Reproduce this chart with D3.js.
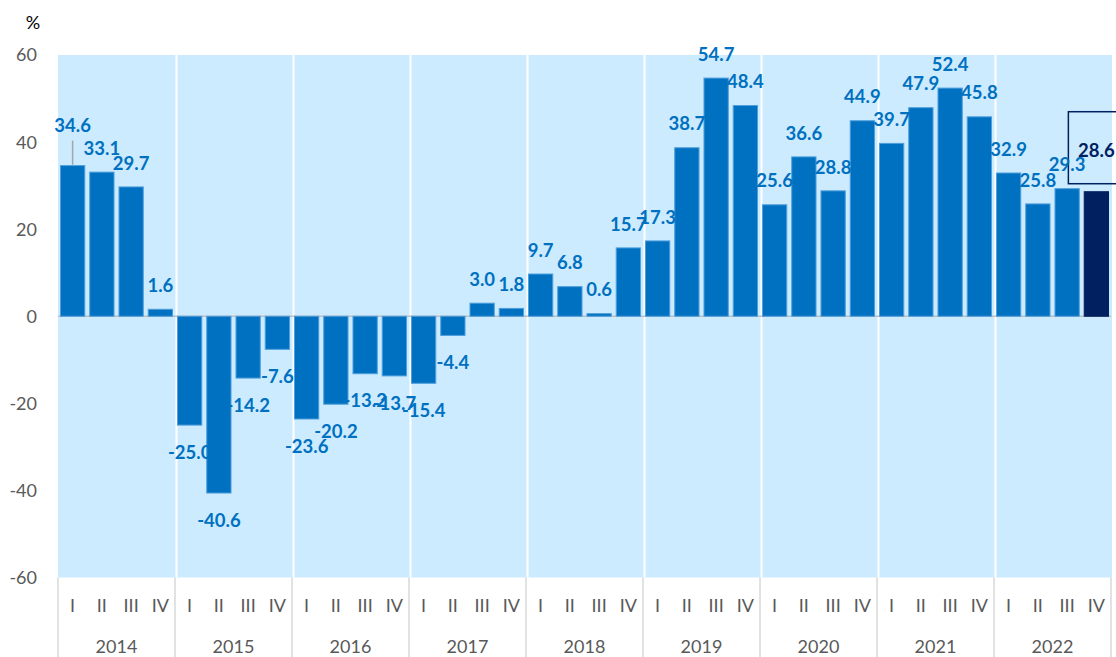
<!DOCTYPE html>
<html>
<head>
<meta charset="utf-8">
<script src="https://cdn.jsdelivr.net/npm/d3@7"></script>
<style>
  html, body { margin: 0; padding: 0; background: #ffffff; }
  svg { display: block; }
</style>
</head>
<body>
<svg id="chart" width="1116" height="657"></svg>
<script>
// ---- data ----
const years = ["2014", "2015", "2016", "2017", "2018", "2019", "2020", "2021", "2022"];
const quarters = ["I", "II", "III", "IV"];
const values = [
  34.6, 33.1, 29.7, 1.6,
  -25.0, -40.6, -14.2, -7.6,
  -23.6, -20.2, -13.2, -13.7,
  -15.4, -4.4, 3.0, 1.8,
  9.7, 6.8, 0.6, 15.7,
  17.3, 38.7, 54.7, 48.4,
  25.6, 36.6, 28.8, 44.9,
  39.7, 47.9, 52.4, 45.8,
  32.9, 25.8, 29.3, 28.6
];
const yTicks = [60, 40, 20, 0, -20, -40, -60];
const unitLabel = "%";

(function () {
const cats = [];
years.forEach(yr => quarters.forEach(q => cats.push(yr + "-" + q)));
const rows = cats.map((c, i) => ({ key: c, year: c.split("-")[0], q: c.split("-")[1], v: values[i], i }));

const svg = d3.select("#chart");
const pLeft = 58, pRight = 1111, pTop = 55, pBottom = 577.5;

const x = d3.scaleBand().domain(cats).range([pLeft, pRight]).paddingInner(0.17).paddingOuter(0.085);
const y = d3.scaleLinear().domain([-60, 60]).range([pBottom, pTop]);
const yearX = d3.scaleBand().domain(years).range([pLeft, pRight]);

const font = "Lato, 'Open Sans', sans-serif";
const barColor = "#0070C0";
const lastColor = "#002060";
const lastIdx = values.length - 1;

svg.append("rect").attr("x", pLeft).attr("y", pTop).attr("width", pRight - pLeft + 1).attr("height", pBottom - pTop)
  .attr("fill", "#CCEBFF");

svg.append("g").selectAll("line").data(years.slice(1)).join("line")
  .attr("x1", d => yearX(d) + 1.5).attr("x2", d => yearX(d) + 1.5)
  .attr("y1", pTop).attr("y2", pBottom)
  .attr("stroke", "#ffffff").attr("stroke-width", 2);

svg.append("g").selectAll("line").data(years.concat(["end"])).join("line")
  .attr("x1", d => d === "end" ? pRight : yearX(d))
  .attr("x2", d => d === "end" ? pRight : yearX(d))
  .attr("y1", pBottom).attr("y2", 657)
  .attr("stroke", "#d9d9d9").attr("stroke-width", 1.5);

svg.append("line").attr("x1", pLeft).attr("x2", pRight).attr("y1", y(0)).attr("y2", y(0))
  .attr("stroke", "#bfbfbf").attr("stroke-width", 1.5);

svg.append("g").selectAll("rect").data(rows).join("rect")
  .attr("x", d => x(d.key))
  .attr("width", x.bandwidth())
  .attr("y", d => y(Math.max(0, d.v)))
  .attr("height", d => Math.abs(y(d.v) - y(0)))
  .attr("fill", d => d.i === lastIdx ? lastColor : barColor)
  .attr("stroke", d => d.i === lastIdx ? lastColor : "#4f9fdc")
  .attr("stroke-width", 1);

const fs = 18.5;
const nudge = { 0: -16, [lastIdx]: -17 };
const labelCenter = d => (d.v >= 0 ? y(d.v) - 24 : y(d.v) + 27) + (nudge[d.i] || 0);

svg.append("line")
  .attr("x1", x(cats[0]) + x.bandwidth() / 2).attr("x2", x(cats[0]) + x.bandwidth() / 2)
  .attr("y1", labelCenter(rows[0]) + 15).attr("y2", y(rows[0].v))
  .attr("stroke", "#a6a6a6").attr("stroke-width", 1.5);

const lastCx = x(cats[lastIdx]) + x.bandwidth() / 2;
const lastCy = labelCenter(rows[lastIdx]);
svg.append("rect")
  .attr("x", lastCx - 28).attr("y", lastCy - 39)
  .attr("width", 56).attr("height", 72)
  .attr("fill", "none").attr("stroke", lastColor).attr("stroke-width", 1.5);

svg.append("g").selectAll("text").data(rows).join("text")
  .attr("x", d => x(d.key) + x.bandwidth() / 2)
  .attr("y", d => labelCenter(d) + fs * 0.36)
  .attr("text-anchor", "middle")
  .attr("font-family", font).attr("font-weight", "bold").attr("font-size", fs)
  .attr("fill", d => d.i === lastIdx ? lastColor : barColor)
  .text(d => d.v.toFixed(1));

svg.append("g").selectAll("text").data(yTicks).join("text")
  .attr("x", 37).attr("y", d => y(d) + 18 * 0.36)
  .attr("text-anchor", "end")
  .attr("font-family", font).attr("font-size", 18).attr("fill", "#595959")
  .text(d => String(d));

svg.append("text").attr("x", 33).attr("y", 23 + 18 * 0.36).attr("text-anchor", "middle")
  .attr("font-family", font).attr("font-size", 18).attr("fill", "#000000").text(unitLabel);

svg.append("g").selectAll("text").data(rows).join("text")
  .attr("x", d => x(d.key) + x.bandwidth() / 2)
  .attr("y", 606 + 18 * 0.36)
  .attr("text-anchor", "middle")
  .attr("font-family", font).attr("font-size", 18).attr("fill", "#595959")
  .text(d => d.q);

svg.append("g").selectAll("text").data(years).join("text")
  .attr("x", d => yearX(d) + yearX.bandwidth() / 2)
  .attr("y", 647 + 18 * 0.36)
  .attr("text-anchor", "middle")
  .attr("font-family", font).attr("font-size", 18).attr("fill", "#595959")
  .text(d => d);
})();
</script>
</body>
</html>
